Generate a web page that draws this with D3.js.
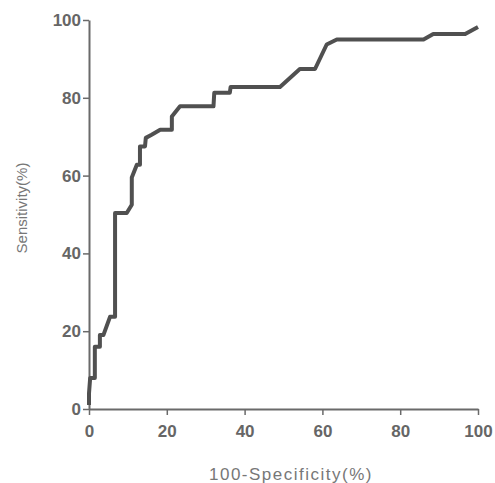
<!DOCTYPE html>
<html>
<head>
<meta charset="utf-8">
<script src="https://cdn.jsdelivr.net/npm/d3@7"></script>
<style>
  body { margin: 0; background: #fff; }
  svg { display: block; }
</style>
</head>
<body>
<div id="chart"></div>
<script>
// ROC curve points: 100-specificity (%) and sensitivity (%)
const fpr = [0, 0, 0.3, 1.5, 1.5, 2.8, 2.8, 3.7, 5.4, 6.7, 6.7, 9.7, 11, 11, 12.3, 13.1, 13.1, 14.4, 14.6, 16.1, 18.3, 21.3, 21.3, 23.4, 32, 32.2, 36.2, 36.4, 49.1, 54.2, 58.1, 61.1, 63.7, 86, 88.5, 96.7, 100]
const sens = [1, 4, 8, 8, 16, 16, 19, 19, 23.7, 23.7, 50.4, 50.4, 52.5, 59.5, 62.8, 62.8, 67.5, 67.5, 69.7, 70.5, 71.8, 71.8, 75.2, 77.8, 77.8, 81.3, 81.3, 82.8, 82.8, 87.4, 87.4, 93.7, 95, 95, 96.4, 96.4, 98.2]
const xTicks = [0, 20, 40, 60, 80, 100]
const yTicks = [0, 20, 40, 60, 80, 100]

const margin = { top: 20, right: 17, bottom: 74, left: 89 }
const width = 495 - margin.left - margin.right
const height = 483 - margin.top - margin.bottom

const svg = d3.select('#chart')
  .append('svg')
  .attr('width', 495)
  .attr('height', 483)

const g = svg.append('g')
  .attr('transform', `translate(${margin.left},${margin.top})`)

const x = d3.scaleLinear().domain([0, 100]).range([0, width])
const y = d3.scaleLinear().domain([0, 100]).range([height, 0])

const axisColor = '#6a6a6a'
const textColor = '#666'
const font = 'Liberation Sans, Arial, sans-serif'

const xAxis = g.append('g')
  .attr('transform', `translate(0,${height})`)
  .call(d3.axisBottom(x).tickValues(xTicks).tickSize(6).tickSizeOuter(0).tickPadding(10))
xAxis.attr('font-family', font).attr('font-size', 17).attr('font-weight', 'bold')
xAxis.select('.domain').attr('stroke', axisColor).attr('stroke-width', 2)
xAxis.selectAll('.tick line').attr('stroke', axisColor).attr('stroke-width', 1.5)
xAxis.selectAll('.tick text').attr('fill', textColor)

const yAxis = g.append('g')
  .call(d3.axisLeft(y).tickValues(yTicks).tickSize(6).tickSizeOuter(0).tickPadding(2))
yAxis.attr('font-family', font).attr('font-size', 17).attr('font-weight', 'bold')
yAxis.select('.domain').attr('stroke', axisColor).attr('stroke-width', 2)
yAxis.selectAll('.tick line').attr('stroke', axisColor).attr('stroke-width', 1.5)
yAxis.selectAll('.tick text').attr('fill', textColor)

const points = fpr.map((d, i) => [d, sens[i]])

g.append('path')
  .datum(points)
  .attr('fill', 'none')
  .attr('stroke', '#505050')
  .attr('stroke-width', 4)
  .attr('stroke-linejoin', 'round')
  .attr('d', d3.line().x(d => x(d[0])).y(d => y(d[1])))

svg.append('text')
  .attr('x', 291)
  .attr('y', 480)
  .attr('text-anchor', 'middle')
  .attr('font-family', font)
  .attr('font-size', 17)
  .attr('letter-spacing', 1.5)
  .attr('fill', '#777')
  .text('100-Specificity(%)')

svg.append('text')
  .attr('transform', 'translate(27,208) rotate(-90)')
  .attr('text-anchor', 'middle')
  .attr('font-family', font)
  .attr('font-size', 15)
  .attr('fill', '#777')
  .text('Sensitivity(%)')
</script>
</body>
</html>
